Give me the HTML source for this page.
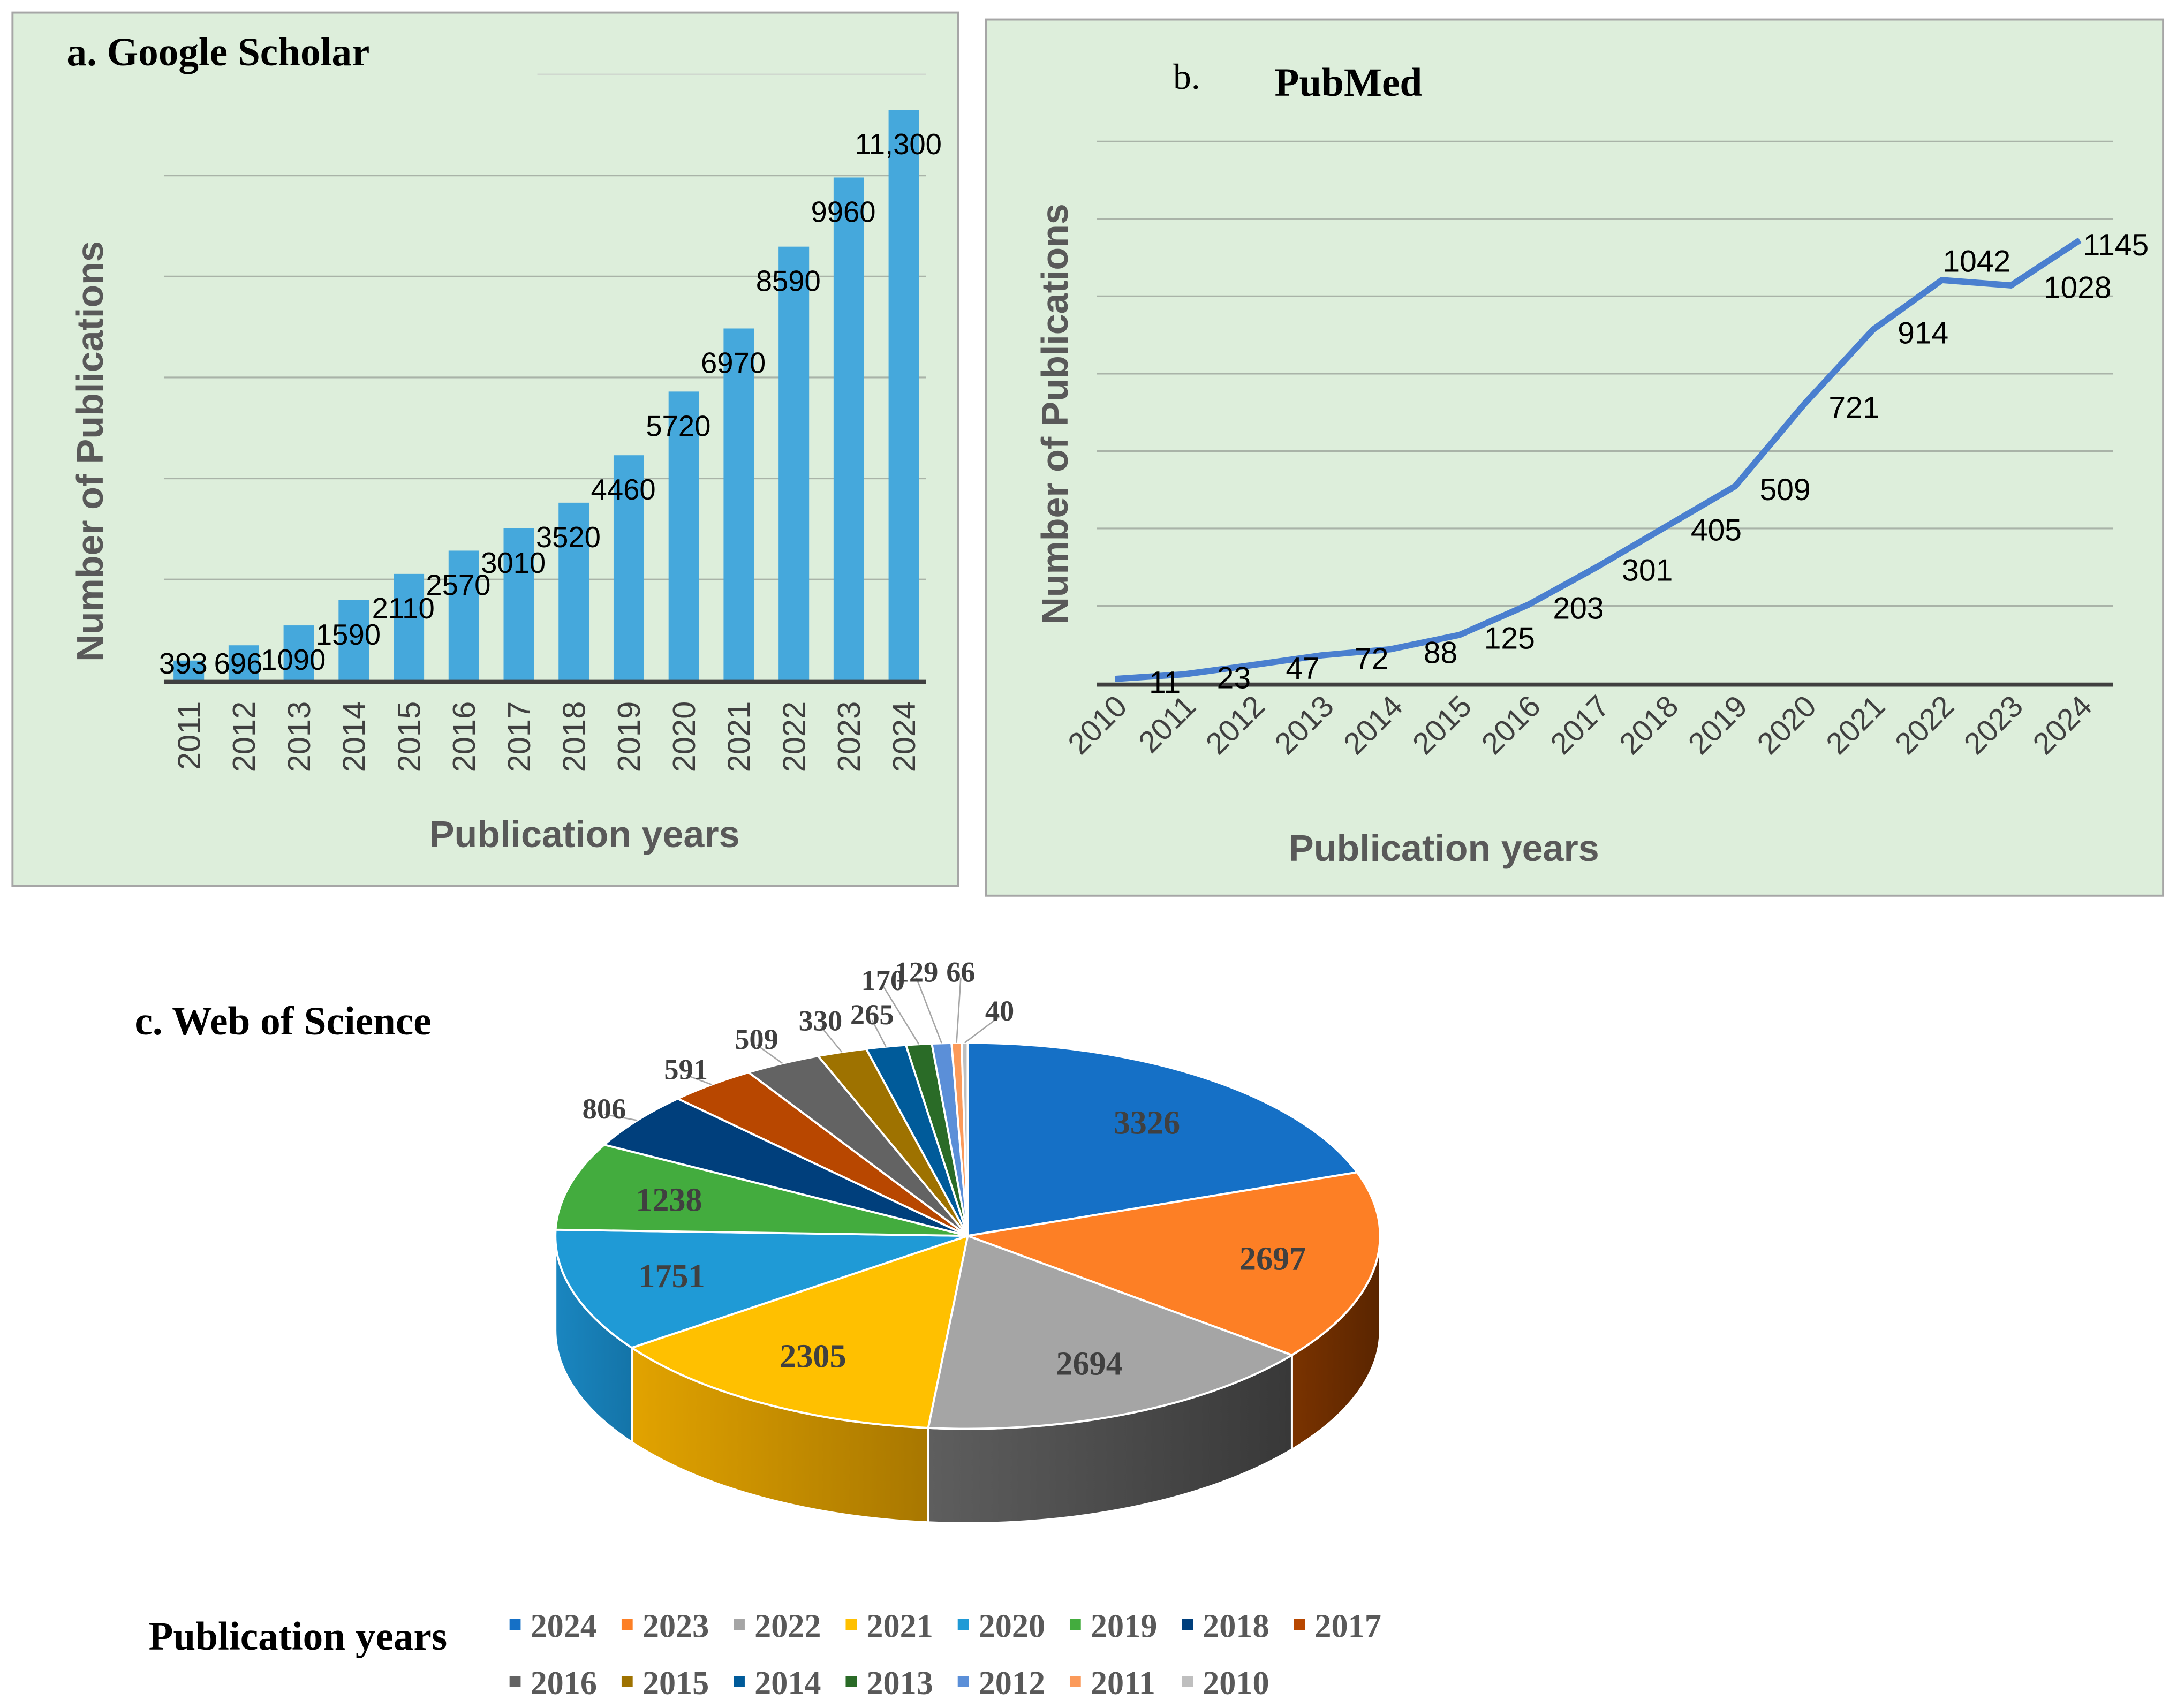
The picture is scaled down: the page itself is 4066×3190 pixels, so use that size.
<!DOCTYPE html>
<html><head><meta charset="utf-8"><style>
html,body{margin:0;padding:0;background:#fff;}
svg{display:block;}
</style></head><body>
<svg id="fig" xmlns="http://www.w3.org/2000/svg" width="4066" height="3190" viewBox="0 0 1568 1230">
<defs>
<linearGradient id="g2022" x1="0" x2="1" y1="0" y2="0"><stop offset="0" stop-color="#5e5e5e"/><stop offset="1" stop-color="#383838"/></linearGradient>
<linearGradient id="g2021" x1="0" x2="1" y1="0" y2="0"><stop offset="0" stop-color="#e2a300"/><stop offset="1" stop-color="#a87700"/></linearGradient>
<linearGradient id="g2023" x1="0" x2="1" y1="0" y2="0"><stop offset="0" stop-color="#7a3300"/><stop offset="1" stop-color="#5a2500"/></linearGradient>
<linearGradient id="g2020" x1="0" x2="1" y1="0" y2="0"><stop offset="0" stop-color="#1a86c0"/><stop offset="1" stop-color="#1474a8"/></linearGradient>
</defs>
<g id="pa">
<rect x="9" y="9" width="681" height="629" fill="#ddeedb" stroke="#a6a6a6" stroke-width="1.5"/>
<text x="48" y="47" font-family="Liberation Serif, serif" font-weight="bold" font-size="29" fill="#000">a. Google Scholar</text>
<text transform="translate(74,325) rotate(-90)" text-anchor="middle" font-family="Liberation Sans, sans-serif" font-weight="bold" font-size="27" fill="#595959">Number of Publications</text>
<text x="421" y="610" text-anchor="middle" font-family="Liberation Sans, sans-serif" font-weight="bold" font-size="27" fill="#595959">Publication years</text>
</g>
<g id="pb">
<rect x="710" y="14" width="848" height="631" fill="#ddeedb" stroke="#a6a6a6" stroke-width="1.5"/>
<text x="845" y="64" font-family="Liberation Serif, serif" font-size="26" fill="#000">b.</text>
<text x="918" y="69" font-family="Liberation Serif, serif" font-weight="bold" font-size="29" fill="#000">PubMed</text>
<text transform="translate(769,298) rotate(-90)" text-anchor="middle" font-family="Liberation Sans, sans-serif" font-weight="bold" font-size="27" fill="#595959">Number of Publications</text>
<text x="1040" y="620" text-anchor="middle" font-family="Liberation Sans, sans-serif" font-weight="bold" font-size="27" fill="#595959">Publication years</text>
</g>
<g id="pc">
<text x="97" y="745" font-family="Liberation Serif, serif" font-weight="bold" font-size="29" fill="#000">c. Web of Science</text>
<text x="107" y="1188" font-family="Liberation Serif, serif" font-weight="bold" font-size="29" fill="#000">Publication years</text>
</g>
</svg>
<script>
const NS='http://www.w3.org/2000/svg';
// ---- Panel a data ----
const gsYears=['2011','2012','2013','2014','2015','2016','2017','2018','2019','2020','2021','2022','2023','2024'];
const gsValues=[393,696,1090,1590,2110,2570,3010,3520,4460,5720,6970,8590,9960,11300];
const gsLabels=['393','696','1090','1590','2110','2570','3010','3520','4460','5720','6970','8590','9960','11,300'];
const gsGrid=[2000,4000,6000,8000,10000,12000];
// ---- Panel b data ----
const pmYears=['2010','2011','2012','2013','2014','2015','2016','2017','2018','2019','2020','2021','2022','2023','2024'];
const pmValues=[11,23,47,72,88,125,203,301,405,509,721,914,1042,1028,1145];
const pmGrid=[200,400,600,800,1000,1200,1400];
// ---- Panel c data ----
const wosYears=['2024','2023','2022','2021','2020','2019','2018','2017','2016','2015','2014','2013','2012','2011','2010'];
const wosValues=[3326,2697,2694,2305,1751,1238,806,591,509,330,265,170,129,66,40];
const wosColors=['#1570c6','#fd7f25','#a5a5a5','#ffc000','#1f9ad6','#43ac3e','#003f7c','#b84700','#636363','#9e7200','#005b9a','#2a6b27','#5b8fd8','#fb9a5a','#bfbfbf'];
const wosSide={'2023':'url(#g2023)','2022':'url(#g2022)','2021':'url(#g2021)','2020':'url(#g2020)'};

function mk(tag,attrs,parent,txt){const e=document.createElementNS(NS,tag);for(const k in attrs)e.setAttribute(k,attrs[k]);if(txt!==undefined)e.textContent=txt;parent.appendChild(e);return e;}

// ===== Panel a =====
const pa=document.getElementById('pa');
const aX0=118,aX1=667,aY0=490,aMax=11300,aTop=79;
const ay=v=>aY0-(v/aMax)*(aY0-aTop);
const aStep=(651-136)/13;
const ax=i=>136+i*aStep;
gsGrid.forEach(g=>{const l=mk('line',{x1:g===12000?387:aX0,x2:aX1,y1:ay(g),y2:ay(g),stroke:g===12000?'#d0d8cf':'#a9b3a8','stroke-width':1.2},pa);

});
gsValues.forEach((v,i)=>{const bw=22;const r=mk('rect',{x:ax(i)-bw/2,y:ay(v),width:bw,height:aY0-ay(v),fill:'#45a8dc'},pa);

});
const aAxis=mk('line',{x1:aX0,x2:aX1,y1:aY0+1,y2:aY0+1,stroke:'#404040','stroke-width':3},pa);


gsValues.forEach((v,i)=>{const t=mk('text',{x:ax(i)-4,y:Math.min(ay(v)+32,485),'text-anchor':'middle','font-family':'Liberation Sans, sans-serif','font-size':21,fill:'#000'},pa,gsLabels[i]);

});
gsYears.forEach((y,i)=>{const t=mk('text',{transform:'translate('+(ax(i)+8)+',505) rotate(-90)','text-anchor':'end','font-family':'Liberation Sans, sans-serif','font-size':23,fill:'#404040'},pa,y);

});

// ===== Panel b =====
const pb=document.getElementById('pb');
const bX0=790,bX1=1522,bY0=492,bPer=0.2787;
const by=v=>bY0-v*bPer;
const bx=i=>803+i*((1498-803)/14);
pmGrid.forEach(g=>{const l=mk('line',{x1:bX0,x2:bX1,y1:by(g),y2:by(g),stroke:'#a9b3a8','stroke-width':1.2},pb);

});
const bAxis=mk('line',{x1:bX0,x2:bX1,y1:bY0+1,y2:bY0+1,stroke:'#404040','stroke-width':3},pb);


const pts=pmValues.map((v,i)=>bx(i).toFixed(1)+','+by(v).toFixed(1)).join(' ');
const line=mk('polyline',{points:pts,fill:'none',stroke:'#4a7fcf','stroke-width':4.5,'stroke-linejoin':'round'},pb);


pmValues.forEach((v,i)=>{let dx=36,dy=10;
if(i===12){dx=25;dy=-6;} if(i===14){dx=26;dy=11;} if(i===13){dx=48;dy=9;}
const t=mk('text',{x:bx(i)+dx,y:by(v)+dy,'text-anchor':'middle','font-family':'Liberation Sans, sans-serif','font-size':22,fill:'#000'},pb,String(v));

});
pmYears.forEach((y,i)=>{const t=mk('text',{transform:'translate('+(bx(i)+10)+',510) rotate(-45)','text-anchor':'end','font-family':'Liberation Sans, sans-serif','font-size':22,fill:'#404040'},pb,y);

});

// ===== Panel c =====
const pc=document.getElementById('pc');
const cx=697,cy=890,rx=297,ry=139,depth=68;
const total=wosValues.reduce((a,b)=>a+b,0);
const P=(th,dy)=>[cx+rx*Math.sin(th),cy-ry*Math.cos(th)+(dy||0)];
let cum=0;const angs=wosValues.map(v=>{const a0=cum/total*2*Math.PI;cum+=v;return [a0,cum/total*2*Math.PI];});
angs.forEach(([a0,a1],i)=>{const s=Math.max(a0,Math.PI/2),e=Math.min(a1,3*Math.PI/2);if(e<=s)return;
const p0=P(s),p1=P(e),q1=P(e,depth),q0=P(s,depth);
const d='M'+p0+' A'+rx+','+ry+' 0 0 1 '+p1+' L'+q1+' A'+rx+','+ry+' 0 0 0 '+q0+' Z';
const f=wosSide[wosYears[i]]||wosColors[i];
const p=mk('path',{d:d,fill:f,stroke:'#fff','stroke-width':1.5},pc);

});
angs.forEach(([a0,a1],i)=>{const p0=P(a0),p1=P(a1);const large=(a1-a0)>Math.PI?1:0;
const p=mk('path',{d:'M'+cx+','+cy+' L'+p0+' A'+rx+','+ry+' 0 '+large+' 1 '+p1+' Z',fill:wosColors[i],stroke:'#fff','stroke-width':1.5},pc);

});
// label layout for the crowded tiny slices (dx, dy relative to top of pie)
const tinyLayout={11:[-61,-45],12:[-37,-51],13:[-5,-51],14:[23,-23]};
angs.forEach(([a0,a1],i)=>{const m=(a0+a1)/2,v=wosValues[i];
if(v>1000){const x=cx+rx*0.75*Math.sin(m),y=cy-ry*0.72*Math.cos(m);
const t=mk('text',{x:x,y:y+8,'text-anchor':'middle','font-family':'Liberation Serif, serif','font-weight':'bold','font-size':24,fill:'#404040'},pc,String(v));

}
else{const k=1.1+(i===10||i===9?0.07:0)+(i===8?0.04:0);
let x=cx+rx*k*Math.sin(m),y=cy-ry*k*Math.cos(m);
if(tinyLayout[i]){x=cx+tinyLayout[i][0];y=cy-ry+tinyLayout[i][1];}
const e=P(m);
const ln=mk('polyline',{points:e+' '+x.toFixed(1)+','+(y+4).toFixed(1),fill:'none',stroke:'#a6a6a6','stroke-width':1},pc);


const t=mk('text',{x:x,y:y+7,'text-anchor':'middle','font-family':'Liberation Serif, serif','font-weight':'bold','font-size':21,fill:'#404040'},pc,String(v));

}});
wosYears.forEach((y,i)=>{const col=i%8,row=Math.floor(i/8);const x=367+col*80.7,yy=1170+row*41;
const g=mk('g',{},pc);


mk('rect',{x:x,y:yy-4,width:8,height:8,fill:wosColors[i]},g);
mk('text',{x:x+15,y:yy+9,'font-family':'Liberation Serif, serif','font-weight':'bold','font-size':24,fill:'#595959'},g,y);});
</script>
</body></html>
